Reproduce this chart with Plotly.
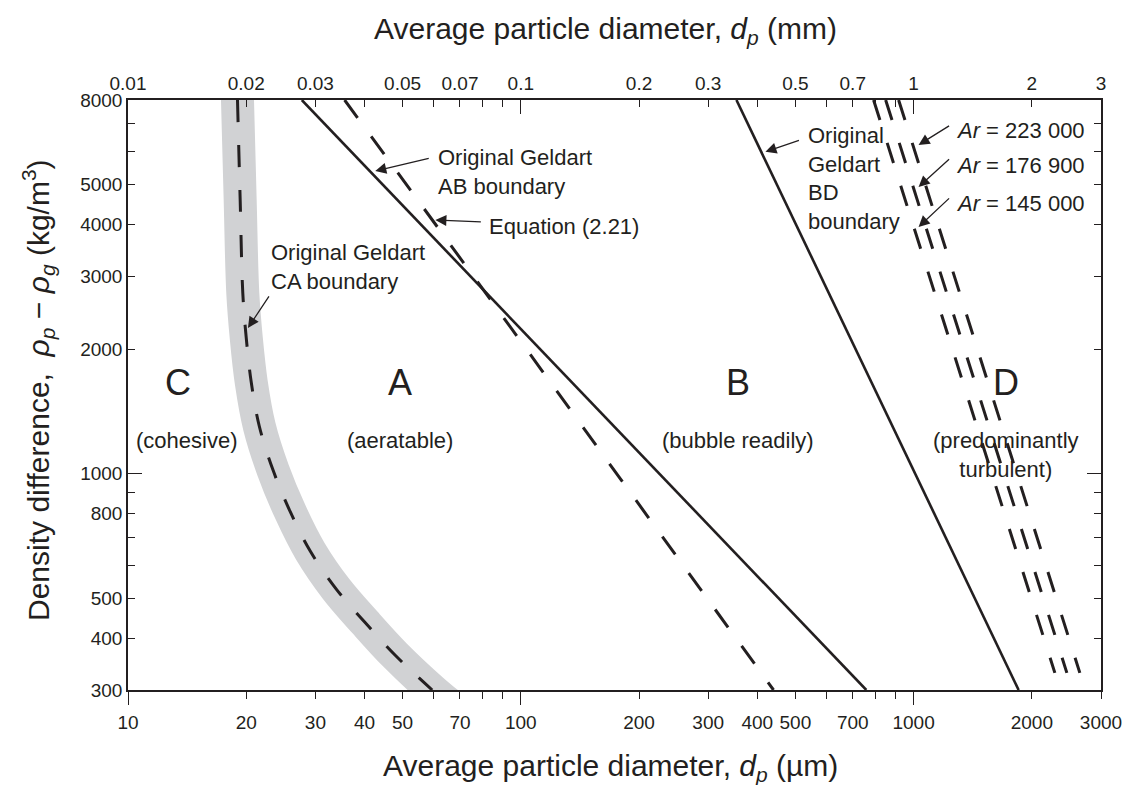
import numpy as np
import plotly.graph_objects as go

INK = "#231f20"
BAND = "#d1d2d4"
FONT = "Liberation Sans, Arial, sans-serif"

# ---------------- data ----------------
# Original Geldart CA boundary (centre of the grey band): dp [µm], Δρ [kg/m3]
ca_dp = [19.0, 19.3, 19.6, 20.0, 20.6, 21.6, 23.4, 25.9, 29.1, 33.9, 40.2, 47.9, 59.5]
ca_rho = [8000, 4590, 2730, 2130, 1660, 1300, 1020, 808, 650, 526, 436, 364, 300]
# grey band runs slightly past the frame so it is clipped cleanly
band_dp = [18.9] + ca_dp + [68.0]
band_rho = [9500] + ca_rho + [270]

# Original Geldart AB boundary
ab_dp = [27.7, 758]
ab_rho = [8000, 300]

# Equation (2.21)
eq_dp = [35.6, 81.0, 440]
eq_rho = [8000, 2750, 300]

# Original Geldart BD boundary
bd_dp = [354, 1851]
bd_rho = [8000, 300]

# Archimedes-number lines (region D)
ar_labels = ["145 000", "176 900", "223 000"]
ar_dp_top = [791, 849, 916]
ar_dp_bottom = [2289, 2456, 2650]
ar_rho = [8000, 330]

# axes ticks
bottom_ticks = [10, 20, 30, 40, 50, 70, 100, 200, 300, 400, 500, 700, 1000, 2000, 3000]
bottom_minor = [60, 80, 90, 600, 800, 900]
bottom_major = [10, 100, 1000]
top_ticks = [0.01, 0.02, 0.03, 0.05, 0.07, 0.1, 0.2, 0.3, 0.5, 0.7, 1, 2, 3]
top_minor = [0.04, 0.06, 0.08, 0.09, 0.4, 0.6, 0.8, 0.9]
top_major = [0.01, 0.1, 1]
left_ticks = [300, 400, 500, 800, 1000, 2000, 3000, 4000, 5000, 8000]
left_minor = [600, 700, 900, 6000, 7000]
left_major = [1000]

DASH = "22px,23px"

fig = go.Figure()

fig.add_trace(go.Scatter(x=band_dp, y=band_rho, mode="lines",
                         line=dict(color=BAND, width=33, shape="spline", smoothing=1.0),
                         hoverinfo="skip", showlegend=False))
fig.add_trace(go.Scatter(x=ca_dp, y=ca_rho, mode="lines",
                         line=dict(color=INK, width=3, dash=DASH, shape="spline", smoothing=1.0),
                         showlegend=False))
fig.add_trace(go.Scatter(x=ab_dp, y=ab_rho, mode="lines",
                         line=dict(color=INK, width=2.6), showlegend=False))
fig.add_trace(go.Scatter(x=eq_dp, y=eq_rho, mode="lines",
                         line=dict(color=INK, width=3, dash=DASH), showlegend=False))
fig.add_trace(go.Scatter(x=bd_dp, y=bd_rho, mode="lines",
                         line=dict(color=INK, width=2.6), showlegend=False))
for lab, d0, d1 in zip(ar_labels, ar_dp_top, ar_dp_bottom):
    fig.add_trace(go.Scatter(x=[d0, d1], y=ar_rho, mode="lines", name=lab,
                             line=dict(color=INK, width=3, dash="21px,24px"),
                             showlegend=False))

# empty helper traces so that the secondary (tick-only) axes are drawn
for xa, ya in [("x2", "y"), ("x3", "y"), ("x4", "y"), ("x", "y2"), ("x", "y3")]:
    fig.add_trace(go.Scatter(x=[], y=[], xaxis=xa, yaxis=ya, mode="lines",
                             hoverinfo="skip", showlegend=False))

lg = np.log10
ann = []

def txt(x, y, s, size=22, xanchor="center", align="center"):
    ann.append(dict(x=lg(x), y=lg(y), xref="x", yref="y", text=s, showarrow=False,
                    xanchor=xanchor, yanchor="middle", align=align,
                    font=dict(family=FONT, size=size, color=INK)))

def arrow(x, y, ax, ay):
    ann.append(dict(x=lg(x), y=lg(y), xref="x", yref="y", text="", showarrow=True,
                    ax=ax, ay=ay, arrowhead=2, arrowsize=1.7, arrowwidth=1.3,
                    arrowcolor=INK))

# region labels
txt(13.41, 1657, "C", size=36)
txt(14.05, 1206, "(cohesive)")
txt(49.3, 1657, "A", size=36)
txt(49.3, 1206, "(aeratable)")
txt(358.2, 1657, "B", size=36)
txt(358.2, 1206, "(bubble readily)")
txt(1716, 1657, "D", size=36)
txt(1716, 1112, "(predominantly<br>turbulent)")

# callouts
txt(60.9, 5346, "Original Geldart<br>AB boundary", xanchor="left", align="left")
arrow(42.6, 5390, 55, -13)
txt(82.1, 3947, "Equation (2.21)", xanchor="left", align="left")
arrow(60.6, 4104, 47, 2)
txt(22.9, 3160, "Original Geldart<br>CA boundary", xanchor="left", align="left")
arrow(20.2, 2250, 22, -33)
txt(530.7, 5156, "Original<br>Geldart<br>BD<br>boundary", xanchor="left", align="left")
arrow(419.6, 5994, 35, -12)
txt(1264.6, 6770, "<i>Ar</i> = " + ar_labels[2], xanchor="left", align="left")
arrow(1029.7, 6230, 32, -20)
txt(1264.6, 5543, "<i>Ar</i> = " + ar_labels[1], xanchor="left", align="left")
arrow(1029.7, 4932, 32, -29)
txt(1264.6, 4486, "<i>Ar</i> = " + ar_labels[0], xanchor="left", align="left")
arrow(1029.7, 3947, 32, -30)

# axis titles
title_font = dict(family=FONT, size=30, color=INK)
ann.append(dict(x=0.491, y=1.1186, xref="paper", yref="paper", showarrow=False,
                text="Average particle diameter, <i>d<sub>p</sub></i> (mm)",
                xanchor="center", yanchor="middle", font=title_font))
ann.append(dict(x=0.4954, y=-0.1322, xref="paper", yref="paper", showarrow=False,
                text="Average particle diameter, <i>d<sub>p</sub></i> (µm)",
                xanchor="center", yanchor="middle", font=title_font))
ann.append(dict(x=-0.0925, y=0.5085, xref="paper", yref="paper", showarrow=False,
                textangle=-90,
                text="Density difference,&nbsp; <i>ρ<sub>p</sub></i> − <i>ρ<sub>g</sub></i> (kg/m<sup>3</sup>)",
                xanchor="center", yanchor="middle", font=title_font))

tickfont = dict(family=FONT, size=19, color=INK)
xr = [1, lg(3000)]
yr = [lg(300), lg(8000)]
common = dict(type="log", showgrid=False, zeroline=False, tickcolor=INK, tickwidth=1.3,
              linecolor=INK, linewidth=1.5, automargin=False)

fig.update_layout(
    width=1126, height=785,
    margin=dict(l=128, r=25, t=100, b=95, autoexpand=False),
    paper_bgcolor="white", plot_bgcolor="white",
    showlegend=False,
    annotations=ann,
    xaxis=dict(range=xr, tickvals=bottom_ticks, ticktext=[str(v) for v in bottom_ticks],
               ticks="outside", ticklen=7, showline=True, tickfont=tickfont,
               ticklabelstandoff=7,
               minor=dict(tickvals=bottom_minor, ticks="outside", ticklen=7,
                          tickcolor=INK, tickwidth=1.3),
               **common),
    xaxis3=dict(range=xr, overlaying="x", anchor="y", side="bottom", tickvals=bottom_major,
                ticks="outside", ticklen=14, showticklabels=False, showline=False, **common),
    xaxis2=dict(range=[-2, lg(3)], overlaying="x", anchor="y", side="top",
                tickvals=top_ticks, ticktext=[f"{v:g}" for v in top_ticks],
                ticks="inside", ticklen=7, showline=True, tickfont=tickfont,
                ticklabelstandoff=1,
                minor=dict(tickvals=top_minor, ticks="inside", ticklen=7,
                           tickcolor=INK, tickwidth=1.3),
                **common),
    xaxis4=dict(range=[-2, lg(3)], overlaying="x", anchor="y", side="top", tickvals=top_major,
                ticks="inside", ticklen=14, showticklabels=False, showline=False, **common),
    yaxis=dict(range=yr, tickvals=left_ticks, ticktext=[str(v) for v in left_ticks],
               ticks="inside", ticklen=7, showline=True, tickfont=tickfont,
               ticklabelstandoff=0,
               minor=dict(tickvals=left_minor, ticks="inside", ticklen=7,
                          tickcolor=INK, tickwidth=1.3),
               **common),
    yaxis2=dict(range=yr, overlaying="y", anchor="x", side="right",
                tickvals=left_ticks + left_minor, ticks="inside", ticklen=7,
                showticklabels=False, showline=True, **common),
    yaxis3=dict(range=yr, overlaying="y", anchor="x", side="left", tickvals=left_major,
                ticks="inside", ticklen=14, showticklabels=False, showline=False,
                mirror="ticks", **common),
)

# remove the browser's default 8px page margin so the figure sits at the window origin
fig.write_html("out.html", config={"displayModeBar": False},
               post_script="document.body.style.margin='0px';")
